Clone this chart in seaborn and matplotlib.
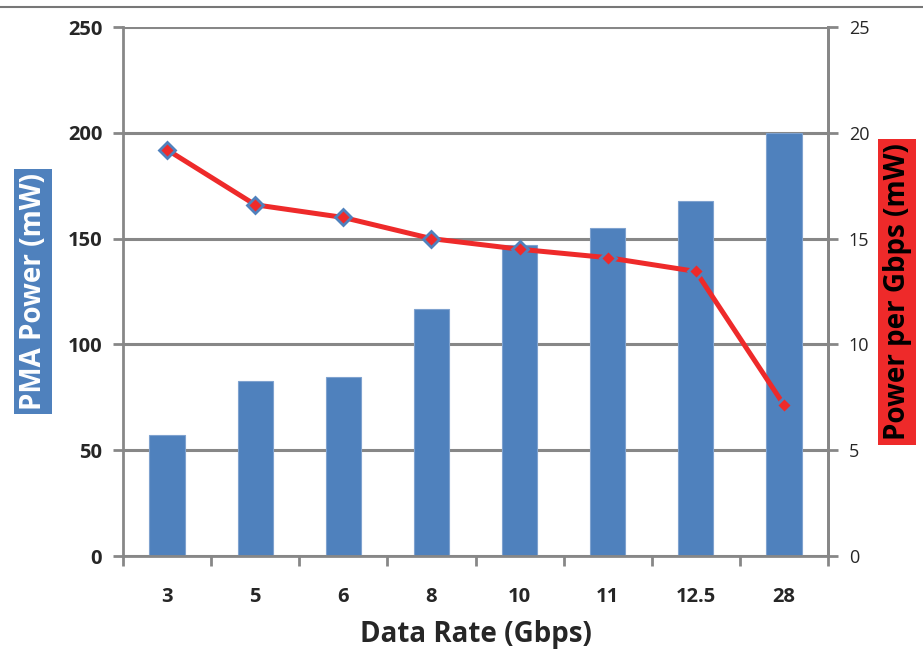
import matplotlib
matplotlib.use("Agg")
import matplotlib.pyplot as plt
import seaborn as sns
import pandas as pd
from matplotlib.lines import Line2D

# Data
rates = ["3", "5", "6", "8", "10", "11", "12.5", "28"]
pma_power = [57.3, 82.7, 84.6, 116.7, 147, 155, 168, 200]
power_per_gbps = [19.2, 16.6, 16.0, 15.0, 14.5, 14.1, 13.45, 7.14]
left_ticks = [0, 50, 100, 150, 200, 250]
right_ticks = [0, 5, 10, 15, 20, 25]

df = pd.DataFrame({"rate": rates, "pma": pma_power, "per_gbps": power_per_gbps})

sns.set_theme(style="white")
plt.rcParams["font.family"] = ["Open Sans", "DejaVu Sans"]

BLUE = "#4F81BD"
RED = "#EE2A2A"
GRID = "#878787"

fig = plt.figure(figsize=(9.23, 6.56), dpi=100)
ax = fig.add_axes([0.1333, 0.1524, 0.7638, 0.8064])

ax.set_axisbelow(True)
ax.yaxis.grid(True, color=GRID, linewidth=2.2)
sns.barplot(data=df, x="rate", y="pma", order=rates, color=BLUE, width=0.4,
            saturation=1, edgecolor="#7FA2CF", linewidth=0.8, ax=ax)

ax.set_ylim(0, 250)
ax.set_yticks(left_ticks)
ax.set_yticklabels([str(t) for t in left_ticks], fontsize=14.5, fontweight="bold")
ax.set_xlim(-0.5, len(rates) - 0.5)
ax.set_xticks(range(len(rates)))
ax.set_xticklabels(rates, fontsize=14.5, fontweight="bold")
ax.tick_params(axis="x", length=0, pad=22)
ax.set_xticks([i - 0.5 for i in range(len(rates) + 1)], minor=True)
ax.tick_params(axis="x", which="minor", direction="out", length=7, width=2, color=GRID, bottom=True)
ax.tick_params(axis="y", direction="out", length=7, width=2, color=GRID, left=True, pad=8)
ax.set_xlabel("Data Rate (Gbps)", fontsize=20, fontweight="bold", labelpad=10)
ax.set_ylabel("")

ax.spines["top"].set_visible(False)
for side in ["left", "bottom", "right"]:
    ax.spines[side].set_color(GRID)
    ax.spines[side].set_linewidth(2)

ax2 = ax.twinx()
sns.pointplot(data=df, x="rate", y="per_gbps", order=rates, color=RED,
              markers="D", linestyles="-", ax=ax2,
              markersize=8.5, markeredgecolor=BLUE, markeredgewidth=2,
              linewidth=3.6)
ax2.set_xlim(-0.5, len(rates) - 0.5)
ax2.set_ylim(0, 25)
ax2.set_yticks(right_ticks)
ax2.set_yticklabels([str(t) for t in right_ticks], fontsize=13)
ax2.tick_params(axis="y", direction="out", length=7, width=2, color=GRID, right=True, pad=8)
ax2.set_ylabel("")
ax2.set_xlabel("")
ax2.grid(False)
for side in ["top", "left", "bottom"]:
    ax2.spines[side].set_visible(False)
ax2.spines["right"].set_color(GRID)
ax2.spines["right"].set_linewidth(2)

# Axis titles in coloured boxes
fig.text(0.0358, 0.556, "PMA Power (mW)", rotation=90, ha="center", va="center",
         fontsize=20, fontweight="bold", color="white",
         bbox=dict(boxstyle="square,pad=0.15", facecolor=BLUE, edgecolor="none"))
fig.text(0.972, 0.555, "Power per Gbps (mW)", rotation=90, ha="center", va="center",
         fontsize=20, fontweight="bold", color="black",
         bbox=dict(boxstyle="square,pad=0.15", facecolor=RED, edgecolor="none"))

# Rule under the page caption
fig.add_artist(Line2D([0, 1], [0.989, 0.989], color="#777777", linewidth=1.5))

fig.savefig("out.png", dpi=100)
